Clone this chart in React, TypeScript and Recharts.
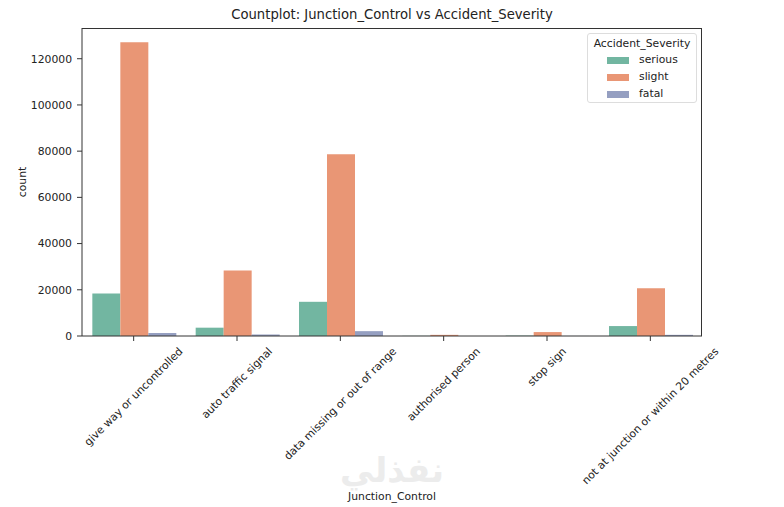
import { BarChart, Bar, XAxis, YAxis } from "recharts";

document.body.style.margin = "0";

const junctions = [
  "give way or uncontrolled",
  "auto traffic signal",
  "data missing or out of range",
  "authorised person",
  "stop sign",
  "not at junction or within 20 metres",
];
const serious = [18400, 3600, 14800, 60, 150, 4300];
const slight = [127100, 28400, 78700, 500, 1700, 20700];
const fatal = [1300, 600, 2100, 10, 20, 500];
const severities = ["serious", "slight", "fatal"];
const colors = ["#72b6a1", "#e99675", "#959fc1"];
const yTicks = [0, 20000, 40000, 60000, 80000, 100000, 120000];

const data = junctions.map((j, i) => ({
  junction: j,
  serious: serious[i],
  slight: slight[i],
  fatal: fatal[i],
}));

const FONT = "'DejaVu Sans', sans-serif";
const TICK = 10.8;

let ctx: CanvasRenderingContext2D | null = null;
const measure = (s: string) => {
  if (!ctx) ctx = document.createElement("canvas").getContext("2d");
  if (!ctx) return s.length * 6;
  ctx.font = `${TICK}px 'DejaVu Sans'`;
  return ctx.measureText(s).width;
};

const RotatedTick = (props: any) => {
  const { x, y, payload } = props;
  const w = measure(payload.value);
  const cy = y + ((w + 13) * Math.SQRT1_2) / 2;
  return (
    <text
      x={x}
      y={cy}
      textAnchor="middle"
      dominantBaseline="central"
      fontSize={TICK}
      fontFamily={FONT}
      fill="#222"
      transform={`rotate(-45 ${x} ${cy})`}
    >
      {payload.value}
    </text>
  );
};

export default function App() {
  return (
    <div style={{ position: "relative", width: 784, height: 507, background: "#fff", fontFamily: FONT, color: "#222" }}>
      <BarChart
        width={784}
        height={507}
        data={data}
        margin={{ top: 28, right: 82, left: 0, bottom: 0 }}
        barCategoryGap="10%"
        barGap={0}
      >
        <XAxis
          dataKey="junction"
          height={171}
          interval={0}
          tickSize={5}
          tickMargin={4}
          stroke="#333"
          tick={<RotatedTick />}
        />
        <YAxis
          width={82}
          type="number"
          domain={[0, 133300]}
          ticks={yTicks}
          tickSize={5}
          tickMargin={5}
          stroke="#333"
          tick={{ fontSize: TICK, fontFamily: FONT, fill: "#222" }}
        />
        {severities.map((s, i) => (
          <Bar key={s} dataKey={s} fill={colors[i]} isAnimationActive={false} />
        ))}
      </BarChart>

      <div style={{ position: "absolute", left: 82, top: 28, width: 620, height: 308, boxSizing: "border-box", borderTop: "1px solid #333", borderRight: "1px solid #333", pointerEvents: "none" }} />

      <div style={{ position: "absolute", left: 82, width: 620, top: 7, textAlign: "center", fontSize: 13.2, lineHeight: "16px" }}>
        Countplot: Junction_Control vs Accident_Severity
      </div>

      <div style={{ position: "absolute", left: 22, top: 182, fontSize: TICK, transform: "translate(-50%, -50%) rotate(-90deg)", whiteSpace: "nowrap" }}>
        count
      </div>

      <div style={{ position: "absolute", left: 392, top: 496, fontSize: TICK, transform: "translate(-50%, -50%)", whiteSpace: "nowrap" }}>
        Junction_Control
      </div>

      <div style={{ position: "absolute", left: 392, top: 470, fontSize: 34, fontWeight: "bold", color: "#ececec", transform: "translate(-50%, -50%)", whiteSpace: "nowrap", direction: "rtl" }}>
        نفذلي
      </div>

      <div style={{ position: "absolute", left: 587, top: 33, width: 110, height: 70, boxSizing: "border-box", border: "1px solid #ddd", borderRadius: 3, background: "rgba(255,255,255,0.8)", fontSize: TICK }}>
        <div style={{ position: "absolute", top: 2, width: "100%", textAlign: "center", lineHeight: "15px", whiteSpace: "nowrap" }}>Accident_Severity</div>
        {severities.map((s, i) => (
          <div key={s} style={{ position: "absolute", left: 19, top: 19 + i * 17, height: 14, display: "flex", alignItems: "center" }}>
            <span style={{ display: "inline-block", width: 22, height: 7, background: colors[i], marginRight: 10 }} />
            <span style={{ lineHeight: "14px" }}>{s}</span>
          </div>
        ))}
      </div>
    </div>
  );
}
